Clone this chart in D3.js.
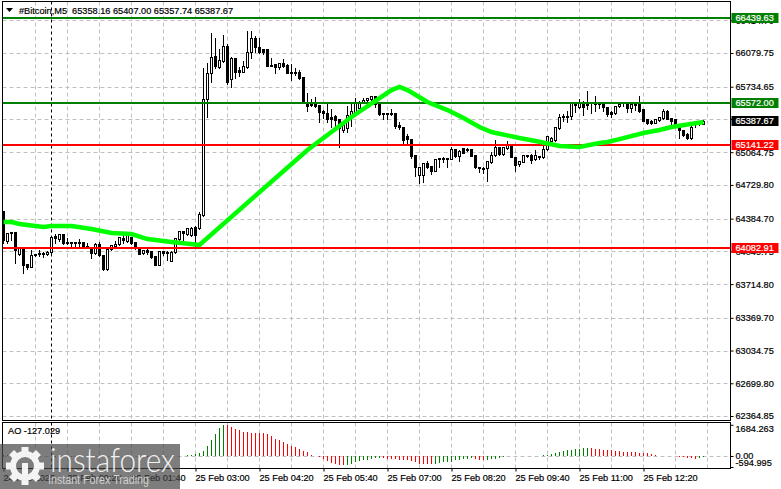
<!DOCTYPE html>
<html>
<head>
<meta charset="utf-8">
<script src="https://cdn.jsdelivr.net/npm/d3@7"></script>
<style>
body { margin: 0; background: #fff; }
text { font-family: "Liberation Sans", sans-serif; font-size: 9.2px; fill: #000; stroke: #000; stroke-width: 0.2px; }
</style>
</head>
<body>
<script>
// 5 minute candles, bar 0 = 24 Feb 23:00
const opens = [64463,64156,64248,64248,64023,64084,63920,63890,64023,64033,64033,64023,64043,64207,64176,64227,64145,64145,64145,64145,64145,64104,64094,64033,64125,64012,63869,64074,64104,64125,64186,64156,64197,64145,64084,64033,64063,64053,64002,63910,64053,64043,63951,64043,64176,64258,64227,64217,64299,64289,64422,65609,65875,66049,65936,65998,66151,65814,66028,65906,65885,65936,66090,66233,66141,66121,66121,65957,65967,65936,65977,65957,65885,65885,65885,65834,65578,65578,65568,65547,65486,65466,65425,65435,65404,65292,65312,65425,65476,65517,65578,65599,65609,65640,65558,65466,65466,65466,65466,65343,65322,65230,65199,65036,64831,64831,64954,64923,64872,65005,65005,65005,64995,65097,65025,65107,65097,65097,65036,64913,64903,64903,64964,65036,65118,65046,65107,65138,65015,64944,64964,65036,65036,64995,65025,65015,65097,65179,65189,65312,65425,65425,65435,65568,65527,65568,65568,65558,65568,65568,65568,65527,65476,65466,65537,65558,65558,65517,65558,65568,65506,65404,65384,65363,65394,65414,65486,65414,65404,65343,65292,65251,65210,65363,65373,65358.16];
const highs = [64463,64248,64258,64248,64084,64084,63930,64074,64033,64074,64053,64063,64207,64237,64237,64237,64197,64156,64156,64186,64156,64145,64094,64145,64156,64023,64074,64125,64166,64207,64237,64258,64207,64145,64094,64074,64084,64063,64012,64063,64063,64063,64063,64197,64268,64268,64299,64309,64319,64463,65936,65988,66295,66243,66131,66274,66182,66049,66039,65947,66008,66315,66315,66264,66243,66131,66131,66039,65977,65988,66028,65977,65977,65936,65916,65834,65680,65619,65640,65558,65506,65568,65517,65455,65414,65373,65547,65568,65629,65599,65629,65629,65650,65640,65568,65476,65476,65517,65466,65384,65333,65261,65210,65036,64913,64954,64985,64933,64995,65015,65025,65005,65128,65107,65097,65118,65118,65097,65036,64923,64923,64985,65077,65199,65128,65128,65189,65159,65025,64985,65036,65046,65056,65097,65036,65138,65240,65230,65322,65466,65466,65496,65588,65578,65619,65599,65701,65578,65650,65588,65578,65537,65496,65547,65568,65578,65588,65568,65578,65650,65517,65414,65404,65414,65435,65517,65506,65425,65414,65363,65302,65271,65373,65394,65394,65407];
const lows = [64135,64135,64166,63930,64012,63828,63869,63890,64002,64002,63992,64012,64033,64135,64156,64125,64125,64094,64094,64094,64094,64084,63982,64023,64002,63859,63859,64063,64094,64115,64135,64145,64125,64074,64023,64023,64023,63982,63910,63910,64012,63961,63951,64033,64166,64145,64217,64207,64094,64278,64411,65425,65783,65926,65926,65988,65762,65732,65824,65844,65885,65926,66028,66090,66080,66069,65947,65947,65875,65916,65936,65875,65803,65854,65814,65568,65486,65537,65527,65373,65414,65373,65322,65322,65118,65271,65271,65333,65476,65517,65568,65568,65599,65527,65445,65404,65404,65445,65312,65302,65159,65159,65005,64821,64749,64759,64903,64841,64872,64913,64964,64913,64995,65015,64974,65056,65077,65025,64903,64862,64852,64770,64954,65025,65036,65036,65097,65015,64872,64923,64964,65015,64954,64985,64995,65005,65087,65169,65179,65302,65384,65373,65404,65476,65517,65445,65506,65466,65486,65517,65486,65435,65425,65455,65527,65537,65476,65476,65496,65476,65384,65353,65353,65363,65384,65404,65404,65343,65333,65210,65230,65199,65199,65322,65343,65357.74];
const closes = [64166,64237,64237,64063,64084,63910,63890,64012,64012,64023,64023,64043,64197,64186,64227,64135,64135,64135,64135,64135,64094,64094,64033,64125,64012,63869,64074,64115,64125,64197,64166,64217,64135,64084,64023,64063,64043,63992,63910,64053,64033,64033,64043,64186,64258,64237,64289,64289,64217,64432,65609,65875,66039,65947,66008,66151,65783,66028,65885,65885,65947,66090,66233,66141,66090,66090,65947,65947,65936,65977,65947,65875,65875,65875,65824,65578,65537,65547,65537,65476,65466,65404,65404,65394,65312,65343,65445,65486,65578,65578,65599,65619,65640,65558,65455,65455,65455,65455,65333,65322,65189,65199,65025,64913,64913,64954,64913,64872,64995,64995,64995,64995,65097,65025,65077,65056,65087,65025,64913,64903,64892,64974,65036,65118,65046,65118,65138,65015,64933,64974,65036,65025,64985,65036,65015,65097,65230,65210,65322,65425,65435,65435,65568,65547,65568,65527,65547,65558,65558,65558,65527,65455,65455,65537,65558,65558,65517,65558,65547,65486,65384,65363,65363,65404,65425,65486,65404,65384,65343,65292,65240,65210,65322,65373,65384,65387.67];

const maBars = [0,2,4,10,12,17,22,27,32,36,42,49,76,87,94,97,99,101,106,111,115,119,122,129,133,139,144,149,151,154,160,164,167,175];
const maValues = [64350,64350,64330,64299,64309,64309,64278,64237,64227,64176,64145,64115,65087,65425,65619,65700,65732,65700,65578,65496,65414,65322,65271,65210,65179,65128,65118,65159,65169,65199,65261,65292,65322,65373];

// awesome oscillator
const aoValues = [40,50,60,70,65,55,45,30,20,10,-10,-15,-20,-30,-40,-50,-60,-75,-90,-80,-60,-45,-30,-20,-10,-5,5,10,15,20,15,10,5,-5,-10,-20,-30,-25,-15,-10,-5,5,10,-5,-8,20,40,60,110,160,280,540,870,1190,1510,1684,1670,1570,1460,1400,1300,1270,1245,1240,1235,1225,1170,1080,920,840,760,650,540,510,380,270,190,60,20,-40,-160,-270,-380,-430,-490,-500,-490,-430,-320,-270,-220,-190,-160,-135,-110,-135,-160,-170,-175,-190,-210,-240,-270,-330,-440,-445,-450,-455,-430,-400,-350,-320,-300,-240,-190,-170,-150,-130,-160,-190,-210,-190,-185,-160,-130,-80,0,0,0,0,0,0,0,0,0,30,50,110,160,215,270,300,325,380,400,405,410,405,385,375,350,325,300,270,245,240,215,210,190,185,160,135,110,55,0,0,0,0,0,-30,-70,-110,-130,-150,-120,-80];

// the 65404.70 label sits behind the black price tag, only its grid line shows
const priceTicks = [66414.70,66079.75,65734.65,65404.70,65064.75,64729.80,64384.70,64049.75,63714.80,63369.70,63034.75,62699.80,62364.85];
const hiddenTick = 65404.70;
const aoTicks = [1684.263,0,-594.995];
const aoLabels = ['1684.263','0.00','-594.995'];
const timeBars = [0,16,32,48,64,80,96,112,128,144,160];
const timeLabels = ['24 Feb 2025','25 Feb 00:20','25 Feb 01:40','25 Feb 03:00','25 Feb 04:20','25 Feb 05:40','25 Feb 07:00','25 Feb 08:20','25 Feb 09:40','25 Feb 11:00','25 Feb 12:20'];
const gridBars = [8,16,24,32,40,48,56,64,72,80,88,96,104,112,120,128,136,144,152,160,168,176];
const separatorBar = 12;

const greenLevels = [66439.63,65572.00];
const redLevels = [65141.22,64082.91];
const lastPrice = 65387.67;

const svgWidth = 781;
const svgHeight = 489;
const left = 2.5, right = 730.5, mainTop = 1.5, mainBottom = 420.5, aoTop = 422.5, aoBottom = 468.5;

const scaleX = d3.scaleLinear().domain([0, 1]).range([3.5, 7.5]);
const scaleY = d3.scaleLinear().domain([62364.85, 66079.75]).range([416, 53]);
const scaleAO = d3.scaleLinear().domain([-594.995, 1684.263]).range([467, 424.8]);
const py = d => Math.round(scaleY(d)) + 0.5;

const svg = d3.select('body')
  .append('svg')
  .attr('width', svgWidth)
  .attr('height', svgHeight)
  .style('display', 'block')
  .style('background-color', '#fff');

svg.append('defs').append('clipPath').attr('id', 'mainClip')
  .append('rect').attr('x', left).attr('y', mainTop).attr('width', right - left).attr('height', mainBottom - mainTop);

// grid
const grid = svg.append('g').attr('stroke', '#c0c0c0').attr('stroke-dasharray', '4,3');
grid.selectAll('.h').data(priceTicks).enter().append('line')
  .attr('x1', left).attr('x2', right).attr('y1', py).attr('y2', py);
grid.append('line').attr('x1', left).attr('x2', right).attr('y1', Math.round(scaleAO(0)) + 0.5).attr('y2', Math.round(scaleAO(0)) + 0.5);
[[mainTop, mainBottom], [aoTop, aoBottom]].forEach(p => {
  grid.selectAll(null).data(gridBars).enter().append('line')
    .attr('x1', scaleX).attr('x2', scaleX).attr('y1', p[0]).attr('y2', p[1]);
  svg.append('line').attr('x1', scaleX(separatorBar)).attr('x2', scaleX(separatorBar))
    .attr('y1', p[0]).attr('y2', p[1])
    .attr('stroke', '#000').attr('stroke-dasharray', '3,3');
});

const plot = svg.append('g').attr('clip-path', 'url(#mainClip)');

// candles
const bars = d3.range(opens.length);
plot.append('g').attr('stroke', '#000').attr('shape-rendering', 'crispEdges')
  .selectAll('line').data(bars).enter().append('line')
  .attr('x1', scaleX).attr('x2', scaleX)
  .attr('y1', i => py(highs[i])).attr('y2', i => py(lows[i]));
plot.append('g').attr('stroke', '#000').attr('shape-rendering', 'crispEdges')
  .selectAll('rect').data(bars).enter().append('rect')
  .attr('x', i => scaleX(i) - 1)
  .attr('width', 2)
  .attr('y', i => Math.min(py(opens[i]), py(closes[i])))
  .attr('height', i => Math.abs(py(opens[i]) - py(closes[i])))
  .attr('fill', i => closes[i] >= opens[i] ? '#fff' : '#000');

// levels under the average
const levels = greenLevels.map(v => [v, '#008000']).concat(redLevels.map(v => [v, '#ff0000']));
plot.selectAll('.level').data(levels).enter().append('line')
  .attr('x1', left).attr('x2', right)
  .attr('y1', d => scaleY(d[0])).attr('y2', d => scaleY(d[0]))
  .attr('stroke', d => d[1]).attr('stroke-width', 2).attr('shape-rendering', 'crispEdges');

const maLine = d3.line().x(d => scaleX(d[0])).y(d => scaleY(d[1]));
plot.append('path')
  .attr('d', maLine(maBars.map((b, i) => [b, maValues[i]])))
  .attr('fill', 'none').attr('stroke', '#00ff00').attr('stroke-width', 4.5);

// AO histogram
svg.append('g').attr('shape-rendering', 'crispEdges')
  .selectAll('line').data(bars.filter(i => aoValues[i] !== 0)).enter().append('line')
  .attr('x1', scaleX).attr('x2', scaleX)
  .attr('y1', scaleAO(0)).attr('y2', i => scaleAO(aoValues[i]))
  .attr('stroke', i => i > 0 && aoValues[i] < aoValues[i - 1] ? '#ff0000' : '#008000');

// frames
[[mainTop, mainBottom], [aoTop, aoBottom]].forEach(p => {
  svg.append('rect').attr('x', left).attr('y', p[0]).attr('width', right - left).attr('height', p[1] - p[0])
    .attr('fill', 'none').attr('stroke', '#000').attr('shape-rendering', 'crispEdges');
});

// axes
function plainText(sel) {
  sel.style('font-size', '9.2px').style('font-family', '"Liberation Sans"');
}
const priceAxis = d3.axisRight(scaleY).tickValues(priceTicks)
  .tickFormat(d => d === hiddenTick ? '' : d3.format('.2f')(d)).tickSize(3).tickPadding(2);
const gPrice = svg.append('g').attr('transform', `translate(${right},0)`).call(priceAxis);
gPrice.select('.domain').remove();
gPrice.selectAll('text').call(plainText);

const aoAxis = d3.axisRight(scaleAO).tickValues(aoTicks).tickFormat((d, i) => aoLabels[i]).tickSize(3).tickPadding(2);
const gAO = svg.append('g').attr('transform', `translate(${right},0)`).call(aoAxis);
gAO.select('.domain').remove();
gAO.selectAll('text').call(plainText);
gAO.selectAll('text').attr('dy', (d, i) => i == 0 ? '0.72em' : i == 1 ? '0.25em' : '-0.2em');

const timeAxis = d3.axisBottom(scaleX).tickValues(timeBars).tickFormat((d, i) => timeLabels[i]).tickSize(3).tickPadding(3);
const gTime = svg.append('g').attr('transform', `translate(0,${aoBottom})`).call(timeAxis);
gTime.select('.domain').remove();
gTime.selectAll('text').call(plainText);
gTime.selectAll('text').attr('text-anchor', 'start').attr('dx', '-0.5');

// price tags
const tags = levels.concat([[lastPrice, '#000']]);
const tag = svg.selectAll('.tag').data(tags).enter().append('g')
  .attr('transform', d => `translate(${right + 1},${Math.round(scaleY(d[0]))})`);
tag.append('rect').attr('y', -5).attr('width', 47).attr('height', 10).attr('fill', d => d[1]);
tag.append('text').attr('x', 4).attr('dy', '0.36em').style('fill', '#fff').style('stroke', '#fff').text(d => d[0].toFixed(2));

// header
svg.append('path').attr('d', d3.line()([[6, 8], [13, 8], [9.5, 12]])).attr('fill', '#000');
svg.append('text').attr('x', 19).attr('y', 14).style('white-space', 'pre')
  .text('#Bitcoin,M5  65358.16 65407.00 65357.74 65387.67');
svg.append('text').attr('x', 8).attr('y', 434).text('AO -127.029');

// watermark
const logo = svg.append('g');
logo.append('rect').attr('x', 0).attr('y', 444).attr('width', 180).attr('height', 45).attr('fill', 'rgba(72,72,72,0.71)');
const gear = logo.append('g').attr('transform', 'translate(25,466)').attr('fill', '#fff').attr('opacity', 0.92);
const teeth = d3.range(8).map(i => i * 45);
gear.selectAll('rect').data(teeth).enter().append('rect')
  .attr('x', -3.5).attr('y', -19).attr('width', 7).attr('height', 6)
  .attr('transform', d => `rotate(${d})`);
gear.append('path').attr('d', d3.arc()({ innerRadius: 9, outerRadius: 15, startAngle: 0, endAngle: 2 * Math.PI }));
gear.append('rect').attr('x', -3).attr('y', -3).attr('width', 6).attr('height', 20);
logo.append('text').attr('x', 50).attr('y', 472).attr('textLength', 125).attr('lengthAdjust', 'spacingAndGlyphs')
  .text('instaforex').style('font-family', 'Lato, sans-serif').style('font-size', '33px').style('font-weight', 300)
  .style('fill', '#fff').style('stroke', 'none').style('opacity', 0.9);
logo.append('text').attr('x', 48).attr('y', 484).attr('textLength', 101).attr('lengthAdjust', 'spacingAndGlyphs')
  .text('Instant Forex Trading').style('font-size', '12px').style('fill', '#d0d0d0').style('stroke', 'none');
</script>
</body>
</html>
